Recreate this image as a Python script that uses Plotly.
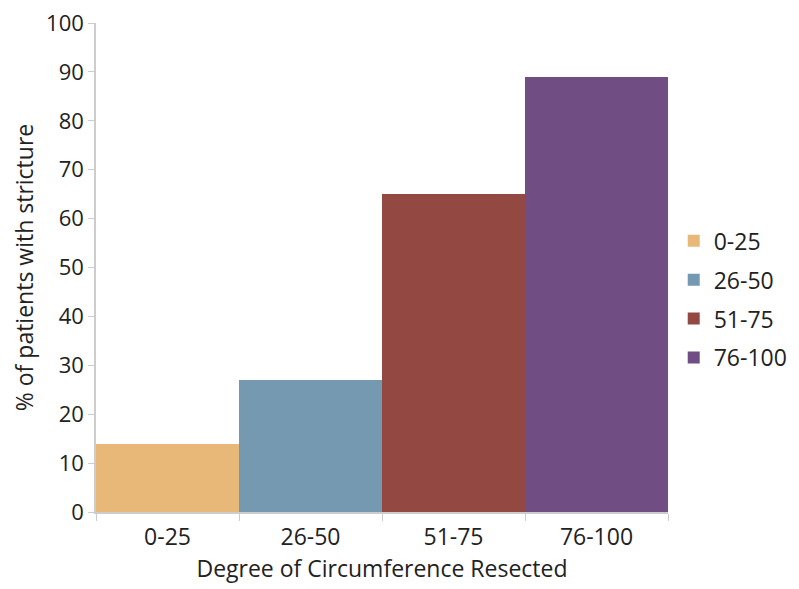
import plotly.graph_objects as go

categories = ["0-25", "26-50", "51-75", "76-100"]
values = [14, 27, 65, 89]
colors = ["#E8B878", "#7599B0", "#944842", "#704E84"]

fig = go.Figure()
for c, v, col in zip(categories, values, colors):
    fig.add_trace(go.Bar(x=[c], y=[v], name=c, legendgroup=c,
                         marker=dict(color=col, line=dict(width=0))))

font = "Open Sans, Noto Sans, sans-serif"
fig.update_layout(
    width=799, height=589,
    margin=dict(l=88, r=139, t=15, b=85, autoexpand=False),
    plot_bgcolor="white", paper_bgcolor="white",
    barmode="overlay", bargap=0,
    font=dict(family=font, size=22, color="#222"),
    showlegend=True,
    legend=dict(x=1.01, xanchor="left", y=0.435, yanchor="middle",
                font=dict(size=23), tracegroupgap=6, itemwidth=30),
    xaxis=dict(categoryorder="array", categoryarray=categories,
               showline=True, linecolor="#cccccc", linewidth=1.5,
               ticks="outside", tickson="boundaries", ticklen=7, tickcolor="#cccccc",
               showgrid=False, tickfont=dict(size=23), automargin=False,
               ticklabelstandoff=4,
               title=dict(text="Degree of Circumference Resected", font=dict(size=23), standoff=10)),
    yaxis=dict(range=[0, 100], dtick=10, showline=True, linecolor="#cccccc", linewidth=1.5,
               ticks="outside", ticklen=6, tickcolor="#cccccc", showgrid=False, zeroline=False,
               tickfont=dict(size=22), automargin=False, ticklabeloverflow="allow",
               title=dict(text="% of patients with stricture", font=dict(size=23), standoff=23)),
)
fig.write_html("out.html")
